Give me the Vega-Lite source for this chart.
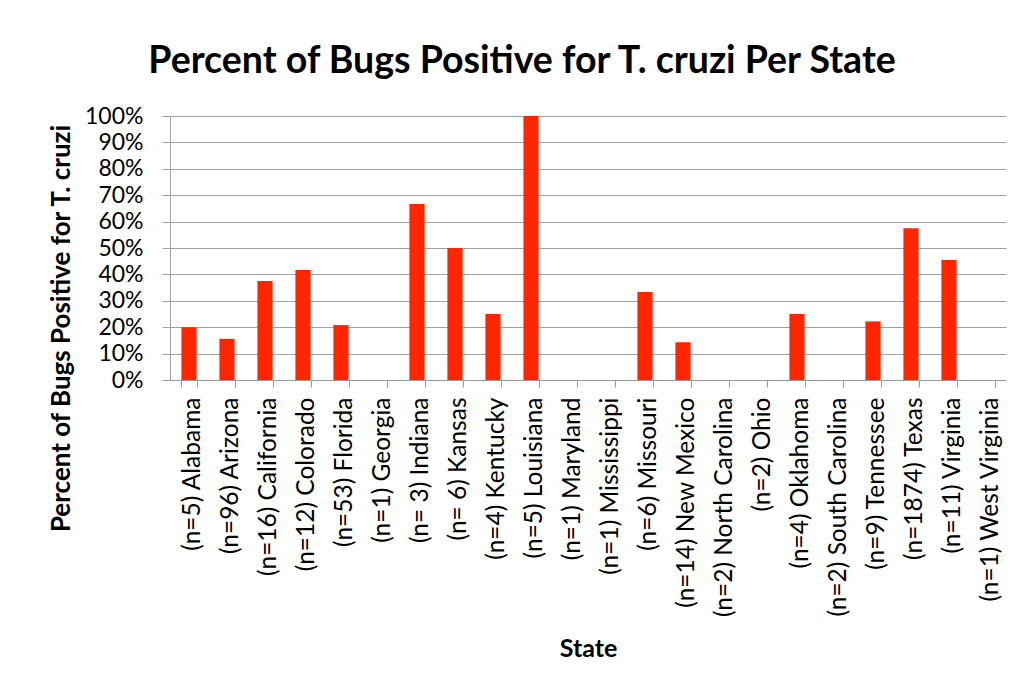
{
  "$schema": "https://vega.github.io/schema/vega-lite/v6.json",
  "autosize": {"type": "none"},
  "width": 836,
  "height": 264,
  "padding": {"left": 170, "top": 116, "right": 23, "bottom": 318},
  "background": "white",
  "title": {
    "text": "Percent of Bugs Positive for T. cruzi Per State",
    "font": "Lato",
    "fontSize": 37.5,
    "fontWeight": "bold",
    "color": "black",
    "anchor": "middle",
    "frame": "group",
    "dx": -66,
    "offset": 25
  },
  "data": {
    "values": [
      {"state": "(n=5) Alabama", "pct": 0.20},
      {"state": "(n=96) Arizona", "pct": 0.156},
      {"state": "(n=16) California", "pct": 0.375},
      {"state": "(n=12) Colorado", "pct": 0.417},
      {"state": "(n=53) Florida", "pct": 0.208},
      {"state": "(n=1) Georgia", "pct": 0},
      {"state": "(n= 3) Indiana", "pct": 0.667},
      {"state": "(n= 6) Kansas", "pct": 0.50},
      {"state": "(n=4) Kentucky", "pct": 0.25},
      {"state": "(n=5) Louisiana", "pct": 1.0},
      {"state": "(n=1) Maryland", "pct": 0},
      {"state": "(n=1) Mississippi", "pct": 0},
      {"state": "(n=6) Missouri", "pct": 0.333},
      {"state": "(n=14) New Mexico", "pct": 0.143},
      {"state": "(n=2) North Carolina", "pct": 0},
      {"state": "(n=2) Ohio", "pct": 0},
      {"state": "(n=4) Oklahoma", "pct": 0.25},
      {"state": "(n=2) South Carolina", "pct": 0},
      {"state": "(n=9) Tennessee", "pct": 0.222},
      {"state": "(n=1874) Texas", "pct": 0.575},
      {"state": "(n=11) Virginia", "pct": 0.455},
      {"state": "(n=1) West Virginia", "pct": 0}
    ]
  },
  "mark": {"type": "bar", "color": "#ff2600"},
  "encoding": {
    "x": {
      "field": "state",
      "type": "nominal",
      "sort": null,
      "title": "State",
      "scale": {"paddingInner": 0.6, "paddingOuter": 0.3},
      "axis": {
        "labelAngle": -90,
        "labelAlign": "right",
        "labelBaseline": "middle",
        "labelFont": "Lato",
        "labelFontSize": 24.5,
        "labelColor": "black",
        "labelPadding": 10,
        "labelOffset": 3,
        "labelLimit": 300,
        "labelOverlap": false,
        "tickBand": "extent",
        "tickSize": 7,
        "tickColor": "#999999",
        "domainColor": "#999999",
        "titleFont": "Lato",
        "titleFontSize": 25,
        "titleFontWeight": "bold",
        "titleColor": "black",
        "titleBaseline": "middle",
        "titleY": 268
      }
    },
    "y": {
      "field": "pct",
      "type": "quantitative",
      "title": "Percent of Bugs Positive for T. cruzi",
      "scale": {"domain": [0, 1], "nice": false},
      "axis": {
        "format": ".0%",
        "values": [0, 0.1, 0.2, 0.3, 0.4, 0.5, 0.6, 0.7, 0.8, 0.9, 1.0],
        "grid": true,
        "gridColor": "#a0a0a0",
        "gridWidth": 1,
        "tickSize": 8,
        "tickColor": "#a0a0a0",
        "domainColor": "#a0a0a0",
        "labelFont": "Lato",
        "labelFontSize": 23,
        "labelColor": "black",
        "labelPadding": 19,
        "labelOverlap": false,
        "titleFont": "Lato",
        "titleFontSize": 26,
        "titleFontWeight": "bold",
        "titleColor": "black",
        "titlePadding": 10,
        "titleY": 212
      }
    }
  },
  "config": {"view": {"stroke": null}}
}
